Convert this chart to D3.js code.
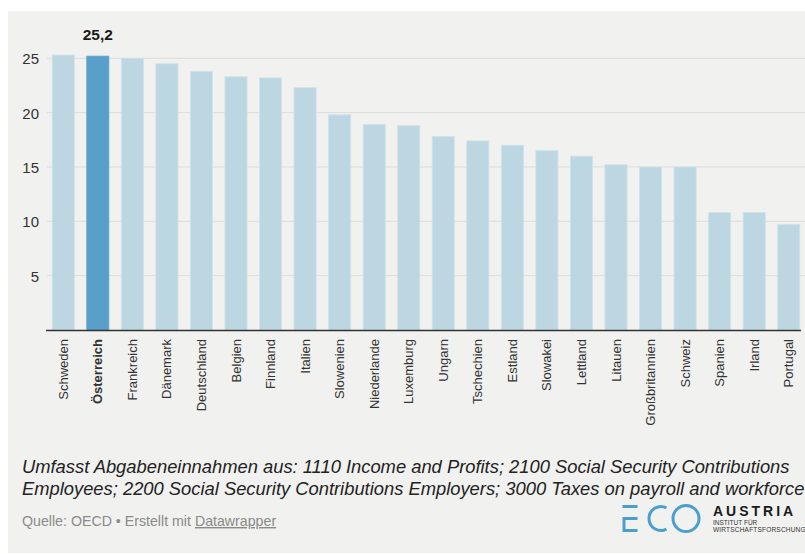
<!DOCTYPE html>
<html>
<head>
<meta charset="utf-8">
<script src="https://cdn.jsdelivr.net/npm/d3@7"></script>
<style>
  html, body { margin: 0; padding: 0; background: #ffffff; }
  svg { display: block; }
  text { font-family: "Liberation Sans", Arial, Helvetica, sans-serif; }
</style>
</head>
<body>
<script>
const categories = ["Schweden","Österreich","Frankreich","Dänemark","Deutschland","Belgien","Finnland","Italien","Slowenien","Niederlande","Luxemburg","Ungarn","Tschechien","Estland","Slowakei","Lettland","Litauen","Großbritannien","Schweiz","Spanien","Irland","Portugal"];
const values = [25.3,25.2,25.0,24.5,23.8,23.3,23.2,22.3,19.8,18.9,18.8,17.8,17.4,17.0,16.5,16.0,15.2,15.0,15.0,10.8,10.8,9.7];
const highlight = ["Österreich"];
const yTicks = [5,10,15,20,25];
const noteLines = [
  "Umfasst Abgabeneinnahmen aus: 1110 Income and Profits; 2100 Social Security Contributions",
  "Employees; 2200 Social Security Contributions Employers; 3000 Taxes on payroll and workforce"
];

const W = 805, H = 554;
const svg = d3.select("body").append("svg").attr("width", W).attr("height", H);

// panel background
svg.append("rect").attr("x", 8).attr("y", 11).attr("width", W - 8).attr("height", H - 12).attr("fill", "#f1f1ef");

const x = d3.scaleBand().domain(categories).range([46, 806]).paddingInner(0.36).paddingOuter(0.18);
const y = d3.scaleLinear().domain([0, 25]).range([330, 58.3]);

// y axis labels
const yAxis = d3.axisLeft(y).tickValues(yTicks).tickSize(0).tickPadding(0).tickFormat(d3.format("d"));
const gy = svg.append("g").attr("transform", "translate(39,0)").call(yAxis);
gy.select(".domain").remove();
gy.selectAll("text").attr("font-size", 15).attr("fill", "#333").attr("x", 0).attr("dy", "0.36em")
  .style("font-family", '"Liberation Sans", Arial, sans-serif');

// gridlines
svg.append("g").selectAll("line").data(yTicks).join("line")
  .attr("x1", 47).attr("x2", W).attr("y1", d => y(d)).attr("y2", d => y(d))
  .attr("stroke", "#dcdcda").attr("stroke-width", 1);

// bars
svg.append("g").selectAll("rect").data(categories).join("rect")
  .attr("x", d => x(d)).attr("width", x.bandwidth())
  .attr("y", (d, i) => y(values[i])).attr("height", (d, i) => y(0) - y(values[i]))
  .attr("fill", d => highlight.includes(d) ? "#58a0c9" : "#bdd7e2")
  .attr("stroke", d => highlight.includes(d) ? "#5ea5cc" : "#cfe2ea").attr("stroke-width", 0.8);

// value label for highlighted
highlight.forEach(h => {
  const i = categories.indexOf(h);
  svg.append("text").attr("x", x(h) + x.bandwidth() / 2).attr("y", 40)
    .attr("text-anchor", "middle").attr("font-size", 15.5).attr("font-weight", "bold").attr("fill", "#1a1a1a")
    .text(d3.format(".1f")(values[i]).replace(".", ","));
});

// baseline
svg.append("line").attr("x1", 46).attr("x2", 801).attr("y1", y(0) + 0.5).attr("y2", y(0) + 0.5)
  .attr("stroke", "#333").attr("stroke-width", 1.5);

// x axis labels
const xAxis = d3.axisBottom(x).tickSize(0).tickPadding(0);
const gx = svg.append("g").attr("transform", `translate(0,${y(0)})`).call(xAxis);
gx.select(".domain").remove();
gx.selectAll("text")
  .attr("transform", "rotate(-90)")
  .attr("x", -9).attr("y", 0).attr("dy", "0.35em")
  .attr("text-anchor", "end").attr("font-size", 13).attr("fill", "#333")
  .attr("font-weight", d => highlight.includes(d) ? "bold" : "normal")
  .style("font-family", '"Liberation Sans", Arial, sans-serif');

// notes
svg.append("g").selectAll("text").data(noteLines).join("text")
  .attr("x", 22).attr("y", (d, i) => 473 + i * 21.5)
  .attr("font-size", 18.35).attr("font-style", "italic").attr("fill", "#222")
  .text(d => d);

const src = svg.append("text").attr("x", 22).attr("y", 526).attr("font-size", 14.2).attr("fill", "#8a8a8a");
src.append("tspan").text("Quelle: OECD • Erstellt mit ");
src.append("tspan").attr("text-decoration", "underline").text("Datawrapper");

// logo
const logo = svg.append("g").attr("fill", "none").attr("stroke", "#4a9fd0").attr("stroke-width", 3);
logo.append("path").attr("d", "M622.5,506.5 H637.5 M637.5,518.5 H624 V530.5 H637.5");
logo.append("path").attr("d", d3.arc()({innerRadius: 12, outerRadius: 12, startAngle: Math.PI / 2 + 1.1, endAngle: Math.PI / 2 + 2 * Math.PI - 1.1}))
  .attr("transform", "translate(661,518.5)");
logo.append("circle").attr("cx", 686).attr("cy", 518.5).attr("r", 13);
svg.append("text").attr("x", 713).attr("y", 516).attr("font-size", 14).attr("font-weight", "bold")
  .attr("letter-spacing", 3).attr("fill", "#1a1a1a").text("AUSTRIA");
svg.append("text").attr("x", 713).attr("y", 525).attr("font-size", 6.5).attr("fill", "#333").text("INSTITUT FÜR");
svg.append("text").attr("x", 713).attr("y", 531.5).attr("font-size", 6.5).attr("letter-spacing", 0.2).attr("fill", "#333").text("WIRTSCHAFTSFORSCHUNG");
</script>
</body>
</html>
